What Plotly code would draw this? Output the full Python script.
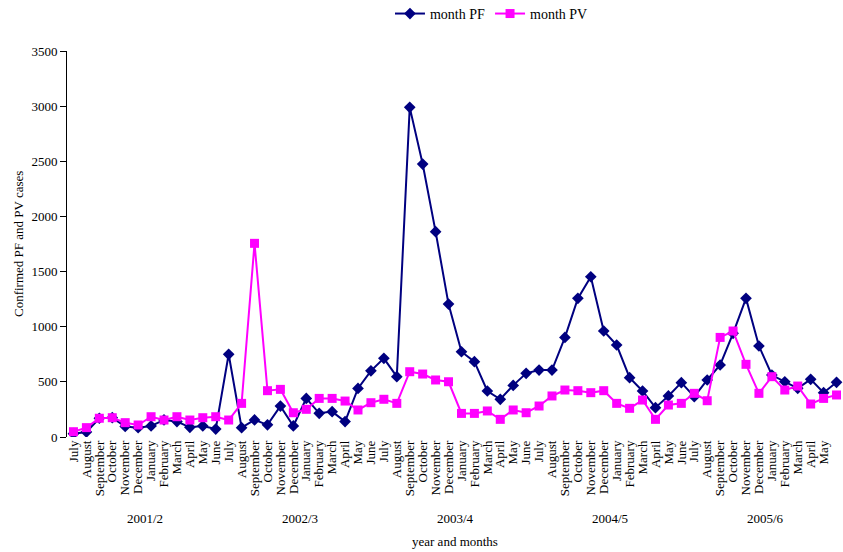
import plotly.graph_objects as go

months = ["July", "August", "September", "October", "November", "December",
          "January", "February", "March", "April", "May", "June"]
years = ["2001/2", "2002/3", "2003/4", "2004/5", "2005/6"]

pf = [30, 45, 170, 175, 95, 85, 100, 155, 140, 88, 100, 72,
      750, 85, 155, 110, 280, 100, 350, 215, 230, 140, 440, 600,
      713, 547, 2989, 2475, 1862, 1205, 773, 683, 417, 342, 468, 577,
      607, 607, 903, 1257, 1453, 961, 834, 538, 417, 266, 372, 493,
      366, 517, 653, 940, 1257, 825, 562, 501, 441, 523, 402, 496]
pv = [48, 85, 170, 175, 130, 109, 184, 154, 184, 154, 175, 184,
      154, 305, 1756, 420, 432, 220, 251, 350, 350, 326, 245, 311,
      342, 305, 592, 571, 517, 501, 214, 214, 236, 160, 245, 220,
      281, 372, 426, 420, 402, 420, 305, 260, 335, 160, 290, 305,
      396, 329, 903, 961, 659, 396, 547, 426, 462, 299, 350, 381]

n = len(pf)
xs = list(range(n))
ticktext = [months[i % 12] for i in xs]

font_family = "Liberation Serif, Times New Roman, serif"

fig = go.Figure()
fig.add_trace(go.Scatter(
    x=xs, y=pf, mode="lines+markers", name="month PF",
    line=dict(color="#000080", width=2),
    marker=dict(symbol="diamond", size=9, color="#000080"),
))
fig.add_trace(go.Scatter(
    x=xs, y=pv, mode="lines+markers", name="month PV",
    line=dict(color="#FF00FF", width=2),
    marker=dict(symbol="square", size=9, color="#FF00FF"),
))

# plot area: x 67..843, y 51..437 (height 386)
annotations = []
for gi, yr in enumerate(years):
    annotations.append(dict(
        x=gi * 12 + 5.5, y=-0.2124, xref="x", yref="paper", text=yr,
        showarrow=False, font=dict(size=13, color="black"), yanchor="middle"))
annotations.append(dict(
    x=0.5, y=-0.272, xref="paper", yref="paper", text="year and months",
    showarrow=False, font=dict(size=13, color="black"), yanchor="middle"))
annotations.append(dict(
    x=-0.0631, y=0.5, xref="paper", yref="paper", text="Confirmed PF and PV cases",
    showarrow=False, textangle=-90, font=dict(size=13, color="black"),
    xanchor="center", yanchor="middle"))

fig.update_layout(
    width=843, height=552,
    margin=dict(l=67, r=0, t=51, b=115, autoexpand=False),
    paper_bgcolor="white", plot_bgcolor="white",
    font=dict(family=font_family, color="black", size=13),
    legend=dict(orientation="h", x=0.547, y=1.096, xanchor="center", yanchor="middle",
                font=dict(size=14), bgcolor="rgba(0,0,0,0)"),
    annotations=annotations,
    showlegend=True,
)
fig.update_xaxes(
    tickmode="array", tickvals=xs, ticktext=ticktext, tickangle=-90,
    range=[-0.5, n - 0.5], showgrid=False, zeroline=False,
    showline=False, ticks="", tickfont=dict(size=13), automargin=False,
)
fig.update_yaxes(
    range=[0, 3500], dtick=500, showgrid=False, zeroline=False,
    showline=True, linecolor="black", linewidth=1, automargin=False,
    ticks="outside", ticklen=6, tickcolor="black", tickfont=dict(size=13),
)

fig.write_html(
    "out.html",
    config={"displayModeBar": False},
    post_script="document.documentElement.style.overflow='hidden';"
                "document.body.style.margin='0';document.body.style.overflow='hidden';",
)
